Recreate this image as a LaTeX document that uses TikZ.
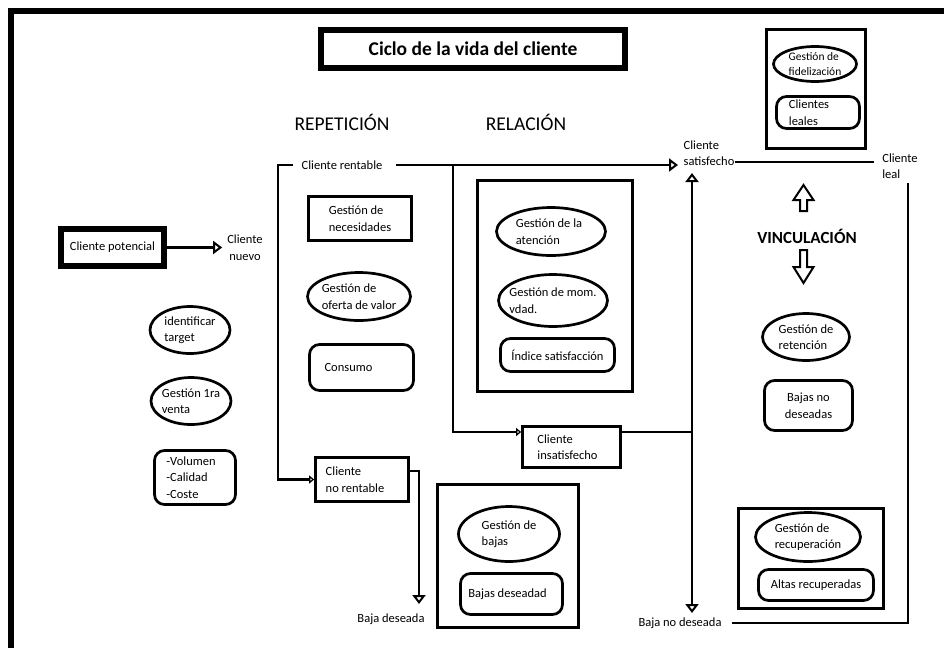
\documentclass[tikz,border=0pt]{standalone}
\usepackage{fontspec}
\setmainfont{Carlito}
\usetikzlibrary{shapes.geometric,arrows.meta}

\tikzset{
  txt/.style={font=\fontsize{12.5}{16.5}\selectfont, inner sep=0pt, align=left},
  head/.style={font=\fontsize{19.5}{22}\selectfont, inner sep=0pt},
  box/.style={draw, line width=2.7pt, inner sep=0pt},
  oval/.style={box, ellipse},
  rbox/.style={box, rounded corners=10pt},
  sz/.style 2 args={minimum width=#1pt, minimum height=#2pt},
  inside/.style={label={[txt]center:#1}},
  wire/.style={line width=2.7pt},
  opentip/.style={-{Triangle[open,length=9pt,width=13pt,line width=2pt]}},
  smalltip/.style={-{Triangle[open,length=5pt,width=8pt,line width=2pt]}},
  blockarrow/.style={draw, line width=2pt, fill=white, line join=miter},
}

\begin{document}
\begin{tikzpicture}[x=1pt,y=-1pt]
\useasboundingbox (0,0) rectangle (944,648);

% heavy frame along the top and left edges
\fill (8,8) rectangle (944,14);
\fill (8,8) rectangle (13.5,648);

% title
\node[draw, line width=6pt, sz={304}{38},
      font=\bfseries\fontsize{19.5}{22}\selectfont] (title) at (473,49)
      {Ciclo de la vida del cliente};

% column headings
\node[head] (rep) at (342,122) {REPETICIÓN};
\node[head] (rel) at (526,122) {RELACIÓN};
\node[head, font=\bfseries\fontsize{17}{20}\selectfont] (vinc) at (807,236) {VINCULACIÓN};

% acquisition
\node[draw, line width=6pt, sz={103}{37}, txt] (pot) at (112.5,247.5) {Cliente potencial};
\node[txt, align=center] (nuevo) at (245,247.5) {Cliente\\nuevo};
\draw[wire, opentip, shorten >=5pt] (pot.east) -- (nuevo.west);

\node[oval, sz={80}{47}, inside={identificar\\target}] (ident) at (190,330) {};
\node[oval, sz={80}{47}, inside={Gestión 1ra\\venta}] (venta) at (191,401) {};
\node[rbox, sz={81}{54}, label={[txt, xshift=-4pt]center:-Volumen\\-Calidad\\-Coste}] (crit) at (195,477.5) {};

% repetition
\node[txt] (rent) at (342,165) {Cliente rentable};
\coordinate (tl) at (278,165);
\coordinate (tr) at (453,165);
\node[box, sz={103}{44}, inside={Gestión de\\necesidades}] (necs) at (360,218.5) {};
\node[oval, sz={103}{48}, inside={Gestión de\\oferta de valor}] (ofer) at (359,296.5) {};
\node[rbox, sz={104}{46}, label={[txt, xshift=-13pt]center:Consumo}] (cons) at (361.5,367.5) {};
\node[box, sz={93}{44}, label={[txt, xshift=-7pt]center:Cliente\\no rentable}] (norent) at (362,479.5) {};
\node[txt] (bdes) at (391,619) {Baja deseada};
\coordinate (bdin) at (419,604);

\draw[wire, smalltip, shorten <=8pt] (rent.west) -- (tl) |- (norent.west);
\draw[wire, opentip] ([yshift=8.5pt]norent.east) -| (bdin);

% relationship
\node[box, sz={155}{211}] (relbox) at (555,286) {};
\node[oval, sz={109}{48}, label={[txt, xshift=-2pt]center:Gestión de la\\atención}] (aten) at (551,231.5) {};
\node[oval, sz={109}{52}, inside={Gestión de mom.\\vdad.}] (mom) at (553,300.5) {};
\node[rbox, sz={114}{33}, inside={Índice satisfacción}] (indice) at (557.5,355) {};

\node[box, sz={98}{41}, label={[txt, xshift=-4pt]center:Cliente\\insatisfecho}] (insat) at (571.5,447) {};
\node[txt] (sat) at (709,153) {Cliente\\satisfecho};
\coordinate (satin) at (678,165);
\coordinate (satup) at (692,173);
\coordinate (j) at (692,432);
\coordinate (bndin) at (692,613);
\node[txt] (bnd) at (680,623) {Baja no deseada};

\draw[wire, opentip, shorten <=13pt] (rent.east) -- (satin);
\draw[wire, smalltip] (tr) |- ([yshift=15pt]insat.west);
\draw[wire] ([yshift=15pt]insat.east) -- (j);
\draw[wire, opentip] (j) -- (satup);
\draw[wire, opentip] (j) -- (bndin);

% unwanted losses
\node[box, sz={141}{143}] (bajbox) at (508,556) {};
\node[oval, sz={101}{55}, inside={Gestión de\\bajas}] (gbaj) at (509,534) {};
\node[rbox, sz={102}{41}, label={[txt, xshift=-4pt]center:Bajas deseadad}] (bajd) at (511.5,594) {};

% loyalty
\node[txt] (leal) at (900,166) {Cliente\\leal};
\coordinate (lealout) at (908,183);
\draw[wire, shorten >=8pt] ([yshift=-9pt]sat.east) -- ([yshift=-9pt]sat.east -| leal.west);
\draw[wire, shorten <=10pt] (bnd.east) -| (lealout);

\node[box, sz={99}{119}] (fidbox) at (816,89) {};
\node[oval, sz={83}{35}, label={[txt, font=\fontsize{11.5}{15}\selectfont]center:Gestión de\\fidelización}] (gfid) at (815,64) {};
\node[rbox, sz={83}{32}, label={[txt, xshift=-9pt]center:Clientes\\leales}] (leales) at (818,112.5) {};

% bonding arrows
\draw[blockarrow] (803.5,185) -- (813.5,200) -- (807,200) -- (807,211)
  -- (800,211) -- (800,200) -- (793.5,200) -- cycle;
\draw[blockarrow] (800,250) -- (807,250) -- (807,267) -- (813.5,267)
  -- (803.5,283) -- (793.5,267) -- (800,267) -- cycle;

% retention
\node[oval, sz={87}{47}, inside={Gestión de\\retención}] (gret) at (806,337) {};
\node[rbox, sz={88}{50}, label={[txt, align=center]center:Bajas no\\deseadas}] (bno) at (808.5,405.5) {};

% recovery
\node[box, sz={145}{100}] (recbox) at (811,558.5) {};
\node[oval, sz={105}{49}, inside={Gestión de\\recuperación}] (grec) at (808,537) {};
\node[rbox, sz={115}{31}, inside={Altas recuperadas}] (altas) at (816,585) {};

\end{tikzpicture}
\end{document}
